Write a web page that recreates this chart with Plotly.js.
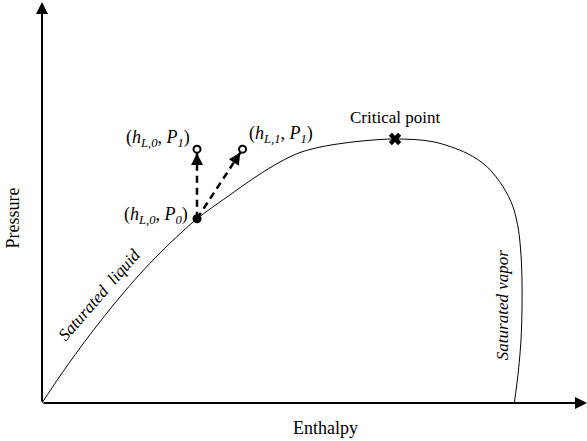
<!DOCTYPE html>
<html>
<head>
<meta charset="utf-8">
<script src="https://cdn.plot.ly/plotly-3.0.1.min.js"></script>
<style>html,body{margin:0;padding:0;background:#fff;}#chart{width:587px;height:441px;}</style>
</head>
<body>
<div id="chart"></div>
<script>
// Saturation dome (enthalpy, pressure) in arbitrary units
const enthalpy = [0, 3.30, 6.97, 10.64, 14.31, 17.98, 21.65, 25.32, 28.44, 33.94, 39.45, 43.67, 47.34, 51.56, 57.80, 64.77, 71.74, 77.98, 81.65, 84.59, 86.42, 87.43, 87.89, 88.07, 88.07, 87.89, 87.43, 86.67];
const pressure = [0, 6.73, 13.72, 20.27, 26.43, 32.17, 37.41, 42.19, 45.96, 51.37, 56.61, 60.10, 62.47, 63.97, 65.21, 65.84, 65.16, 62.27, 58.93, 53.94, 48.95, 43.14, 36.91, 30.67, 23.19, 15.71, 8.23, 0];
// State points
const stateH0 = 28.44, stateP0 = 45.96;  // (h_L,0, P_0)
const stateH0b = 28.44, stateP1 = 63.3;  // (h_L,0, P_1)
const stateH1 = 36.8;                    // (h_L,1, P_1)
const criticalH = 64.77, criticalP = 65.84;
const axisMax = 100;

const FONT = '"Liberation Serif", "Times New Roman", serif';

const traces = [
  {x: enthalpy, y: pressure, mode: 'lines', line: {color: '#000', width: 1, shape: 'spline', smoothing: 0.9}, hoverinfo: 'skip'},
  {x: [stateH0, stateH0b], y: [stateP0, stateP1], mode: 'lines', line: {color: '#000', width: 2.5, dash: '7px,5px'}, hoverinfo: 'skip'},
  {x: [stateH0, stateH1], y: [stateP0, stateP1], mode: 'lines', line: {color: '#000', width: 2.5, dash: '7px,5px'}, hoverinfo: 'skip'},
  {x: [stateH0], y: [stateP0], mode: 'markers', marker: {symbol: 'circle', size: 9, color: '#000'}},
  {x: [stateH0b, stateH1], y: [stateP1, stateP1], mode: 'markers', marker: {symbol: 'circle', size: 7, color: '#fff', line: {color: '#000', width: 2}}},
  {x: [criticalH], y: [criticalP], mode: 'markers', marker: {symbol: 'x', size: 11, color: '#000', line: {width: 0}}}
];

function headAnn(tx, ty, fx, fy) {
  const k = 0.2;
  return {x: tx, y: ty, ax: tx + (fx - tx) * k, ay: ty + (fy - ty) * k, xref: 'x', yref: 'y', axref: 'x', ayref: 'y',
    showarrow: true, arrowhead: 2, arrowsize: 0.95, arrowwidth: 2.5, arrowcolor: '#000', standoff: 4, text: ''};
}

const annotations = [
  // axes arrows
  {x: axisMax, y: 0, ax: 0, ay: 0, xref: 'x', yref: 'y', axref: 'x', ayref: 'y', showarrow: true, arrowhead: 2, arrowsize: 1.2, arrowwidth: 2, arrowcolor: '#000', text: ''},
  {x: 0, y: axisMax, ax: 0, ay: 0, xref: 'x', yref: 'y', axref: 'x', ayref: 'y', showarrow: true, arrowhead: 2, arrowsize: 1.2, arrowwidth: 2, arrowcolor: '#000', text: ''},
  headAnn(stateH0b, stateP1, stateH0, stateP0),
  headAnn(stateH1, stateP1, stateH0, stateP0),
  // labels
  {x: stateH0b, y: stateP1, xref: 'x', yref: 'y', showarrow: false, xanchor: 'right', yanchor: 'middle', xshift: -5, yshift: 11,
   text: '(<i>h</i><sub><i>L,0</i></sub>, <i>P</i><sub><i>1</i></sub>)', font: {family: FONT, size: 18, color: '#000'}},
  {x: stateH1, y: stateP1, xref: 'x', yref: 'y', showarrow: false, xanchor: 'left', yanchor: 'middle', xshift: 4, yshift: 15,
   text: '(<i>h</i><sub><i>L,1</i></sub>, <i>P</i><sub><i>1</i></sub>)', font: {family: FONT, size: 18, color: '#000'}},
  {x: stateH0, y: stateP0, xref: 'x', yref: 'y', showarrow: false, xanchor: 'right', yanchor: 'middle', xshift: -7, yshift: 3,
   text: '(<i>h</i><sub><i>L,0</i></sub>, <i>P</i><sub><i>0</i></sub>)', font: {family: FONT, size: 18, color: '#000'}},
  {x: criticalH, y: criticalP, xref: 'x', yref: 'y', showarrow: false, xanchor: 'center', yanchor: 'middle', yshift: 21,
   text: 'Critical point', font: {family: FONT, size: 17, color: '#000'}},
  {x: 10.6, y: 27.0, xref: 'x', yref: 'y', showarrow: false, textangle: -49,
   text: '<i>Saturated  liquid</i>', font: {family: FONT, size: 17, color: '#000'}},
  {x: 84.4, y: 24.4, xref: 'x', yref: 'y', showarrow: false, textangle: -90,
   text: '<i>Saturated vapor</i>', font: {family: FONT, size: 17, color: '#000'}},
  {x: 0.52, y: 0, xref: 'paper', yref: 'paper', showarrow: false, xanchor: 'center', yshift: -25, yanchor: 'middle',
   text: 'Enthalpy', font: {family: FONT, size: 18, color: '#000'}},
  {x: 0, y: 0.46, xref: 'paper', yref: 'paper', showarrow: false, xanchor: 'center', yanchor: 'middle', xshift: -29, textangle: -90,
   text: 'Pressure', font: {family: FONT, size: 18, color: '#000'}}
];

const axisCommon = {showgrid: false, zeroline: false, showticklabels: false, showline: false, ticks: '', fixedrange: true};

const layout = {
  width: 587, height: 441,
  margin: {l: 42, r: 0, t: 2, b: 38},
  paper_bgcolor: '#fff', plot_bgcolor: '#fff',
  showlegend: false,
  xaxis: Object.assign({range: [0, axisMax]}, axisCommon),
  yaxis: Object.assign({range: [0, axisMax]}, axisCommon),
  annotations: annotations,
  font: {family: FONT, color: '#000'}
};

Plotly.newPlot('chart', traces, layout, {displayModeBar: false, staticPlot: true});
</script>
</body>
</html>
